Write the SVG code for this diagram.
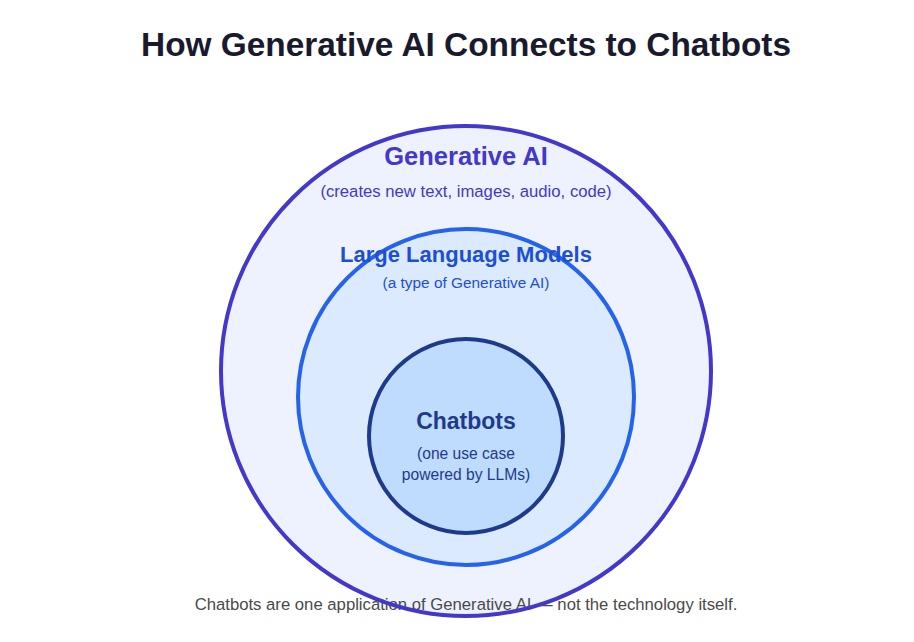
<svg xmlns="http://www.w3.org/2000/svg" width="914" height="642" viewBox="0 0 914 642">
<style>
text{font-family:"Liberation Sans",Arial,sans-serif;text-anchor:middle}
.title{font-size:33.4px;font-weight:bold;fill:#1a1a2e}
.h{font-weight:bold}
.foot{font-size:16.7px;fill:#4a4a4a}
</style>
<rect width="914" height="642" fill="#ffffff"/>
<text class="title" x="466" y="56">How Generative AI Connects to Chatbots</text>
<g id="generative-ai">
<circle cx="466" cy="371" r="245" fill="#eef2ff"/>
<text class="foot" x="466" y="610">Chatbots are one application of Generative AI — not the technology itself.</text>
<circle cx="466" cy="371" r="245" fill="none" stroke="#4338ca" stroke-width="4"/>
<text class="h" x="466" y="165" font-size="25.5" fill="#4338ca">Generative AI</text>
<text x="466" y="197" font-size="16.7" fill="#4338ca">(creates new text, images, audio, code)</text>
</g>
<g id="llm">
<circle cx="466" cy="397" r="168" fill="#dbeafe" stroke="#2563eb" stroke-width="4"/>
<text class="h" x="466" y="262" font-size="22" fill="#1d4ed8">Large Language Models</text>
<text x="466" y="288" font-size="15.4" fill="#1d4ed8">(a type of Generative AI)</text>
</g>
<g id="chatbots">
<circle cx="466" cy="436" r="97" fill="#bfdbfe" stroke="#1e3a8a" stroke-width="4"/>
<text class="h" x="466" y="429" font-size="23" fill="#1e3a8a">Chatbots</text>
<text x="466" y="459" font-size="15.6" fill="#1e3a8a">(one use case</text>
<text x="466" y="480" font-size="15.6" fill="#1e3a8a">powered by LLMs)</text>
</g>
<g id="connectors"/>
</svg>
